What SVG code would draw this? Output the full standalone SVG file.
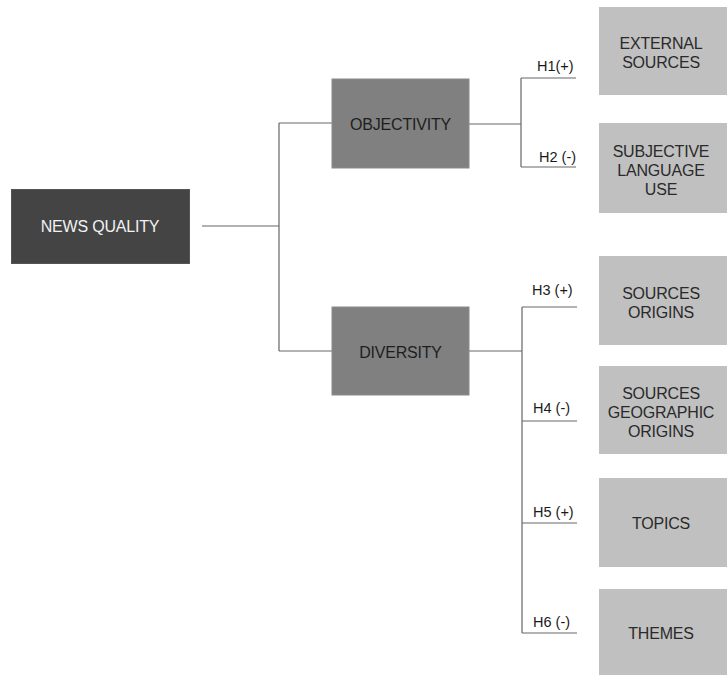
<svg xmlns="http://www.w3.org/2000/svg" width="727" height="675" viewBox="0 0 727 675">
<style>
text{font-family:"Liberation Sans",Arial,Helvetica,sans-serif}
.t{font-size:16px;letter-spacing:-0.2px;text-anchor:middle}
.lbl{font-size:14.5px;fill:#1a1a1a}
.dark{fill:#444444;stroke:#555555;stroke-width:1}
.mid{fill:#808080;stroke:#8a8a8a;stroke-width:1}
.light{fill:#c0c0c0}
.ln{fill:none;stroke:#666666;stroke-width:1.2}
</style>
<rect width="727" height="675" fill="#ffffff"/>
<g id="connectors">
<path class="ln" d="M202,226 H279 M279,123 V351 M279,123 H332 M279,351 H332"/>
<path class="ln" d="M469,124 H521 M521,78 V167 M521,78 H576 M521,167 H576"/>
<path class="ln" d="M469,351 H522 M522,307 V633 M522,307 H577 M522,421 H577 M522,523 H577 M522,633 H577"/>
</g>
<g id="labels">
<text class="lbl" x="537" y="71">H1(+)</text>
<text class="lbl" x="539" y="162">H2 (-)</text>
<text class="lbl" x="532" y="295">H3 (+)</text>
<text class="lbl" x="533" y="413">H4 (-)</text>
<text class="lbl" x="533" y="517">H5 (+)</text>
<text class="lbl" x="533" y="627">H6 (-)</text>
</g>
<g id="news-quality">
<rect class="dark" x="11.5" y="189.5" width="178" height="74"/>
<text class="t" x="100" y="232" fill="#f2f2f2">NEWS QUALITY</text>
</g>
<g id="objectivity">
<rect class="mid" x="332" y="79" width="137" height="89"/>
<text class="t" x="400.5" y="129.5" fill="#1e1e1e">OBJECTIVITY</text>
</g>
<g id="diversity">
<rect class="mid" x="332" y="307" width="137" height="88"/>
<text class="t" x="400.5" y="357.5" fill="#1e1e1e">DIVERSITY</text>
</g>
<g id="external-sources">
<rect class="light" x="599" y="7" width="128" height="88"/>
<text class="t" x="661" y="48.5" fill="#2a2a2a">EXTERNAL</text>
<text class="t" x="661" y="67.5" fill="#2a2a2a">SOURCES</text>
</g>
<g id="subjective-language-use">
<rect class="light" x="599" y="123" width="128" height="90"/>
<text class="t" x="661" y="156.5" fill="#2a2a2a">SUBJECTIVE</text>
<text class="t" x="661" y="175.5" fill="#2a2a2a">LANGUAGE</text>
<text class="t" x="661" y="194.5" fill="#2a2a2a">USE</text>
</g>
<g id="sources-origins">
<rect class="light" x="599" y="256" width="128" height="89"/>
<text class="t" x="661" y="298.5" fill="#2a2a2a">SOURCES</text>
<text class="t" x="661" y="317.5" fill="#2a2a2a">ORIGINS</text>
</g>
<g id="sources-geographic-origins">
<rect class="light" x="599" y="366" width="128" height="88"/>
<text class="t" x="661" y="398.5" fill="#2a2a2a">SOURCES</text>
<text class="t" x="661" y="417.5" fill="#2a2a2a">GEOGRAPHIC</text>
<text class="t" x="661" y="436.5" fill="#2a2a2a">ORIGINS</text>
</g>
<g id="topics">
<rect class="light" x="599" y="478" width="128" height="89"/>
<text class="t" x="661" y="528.5" fill="#2a2a2a">TOPICS</text>
</g>
<g id="themes">
<rect class="light" x="599" y="589" width="128" height="86"/>
<text class="t" x="661" y="639" fill="#2a2a2a">THEMES</text>
</g>
</svg>
